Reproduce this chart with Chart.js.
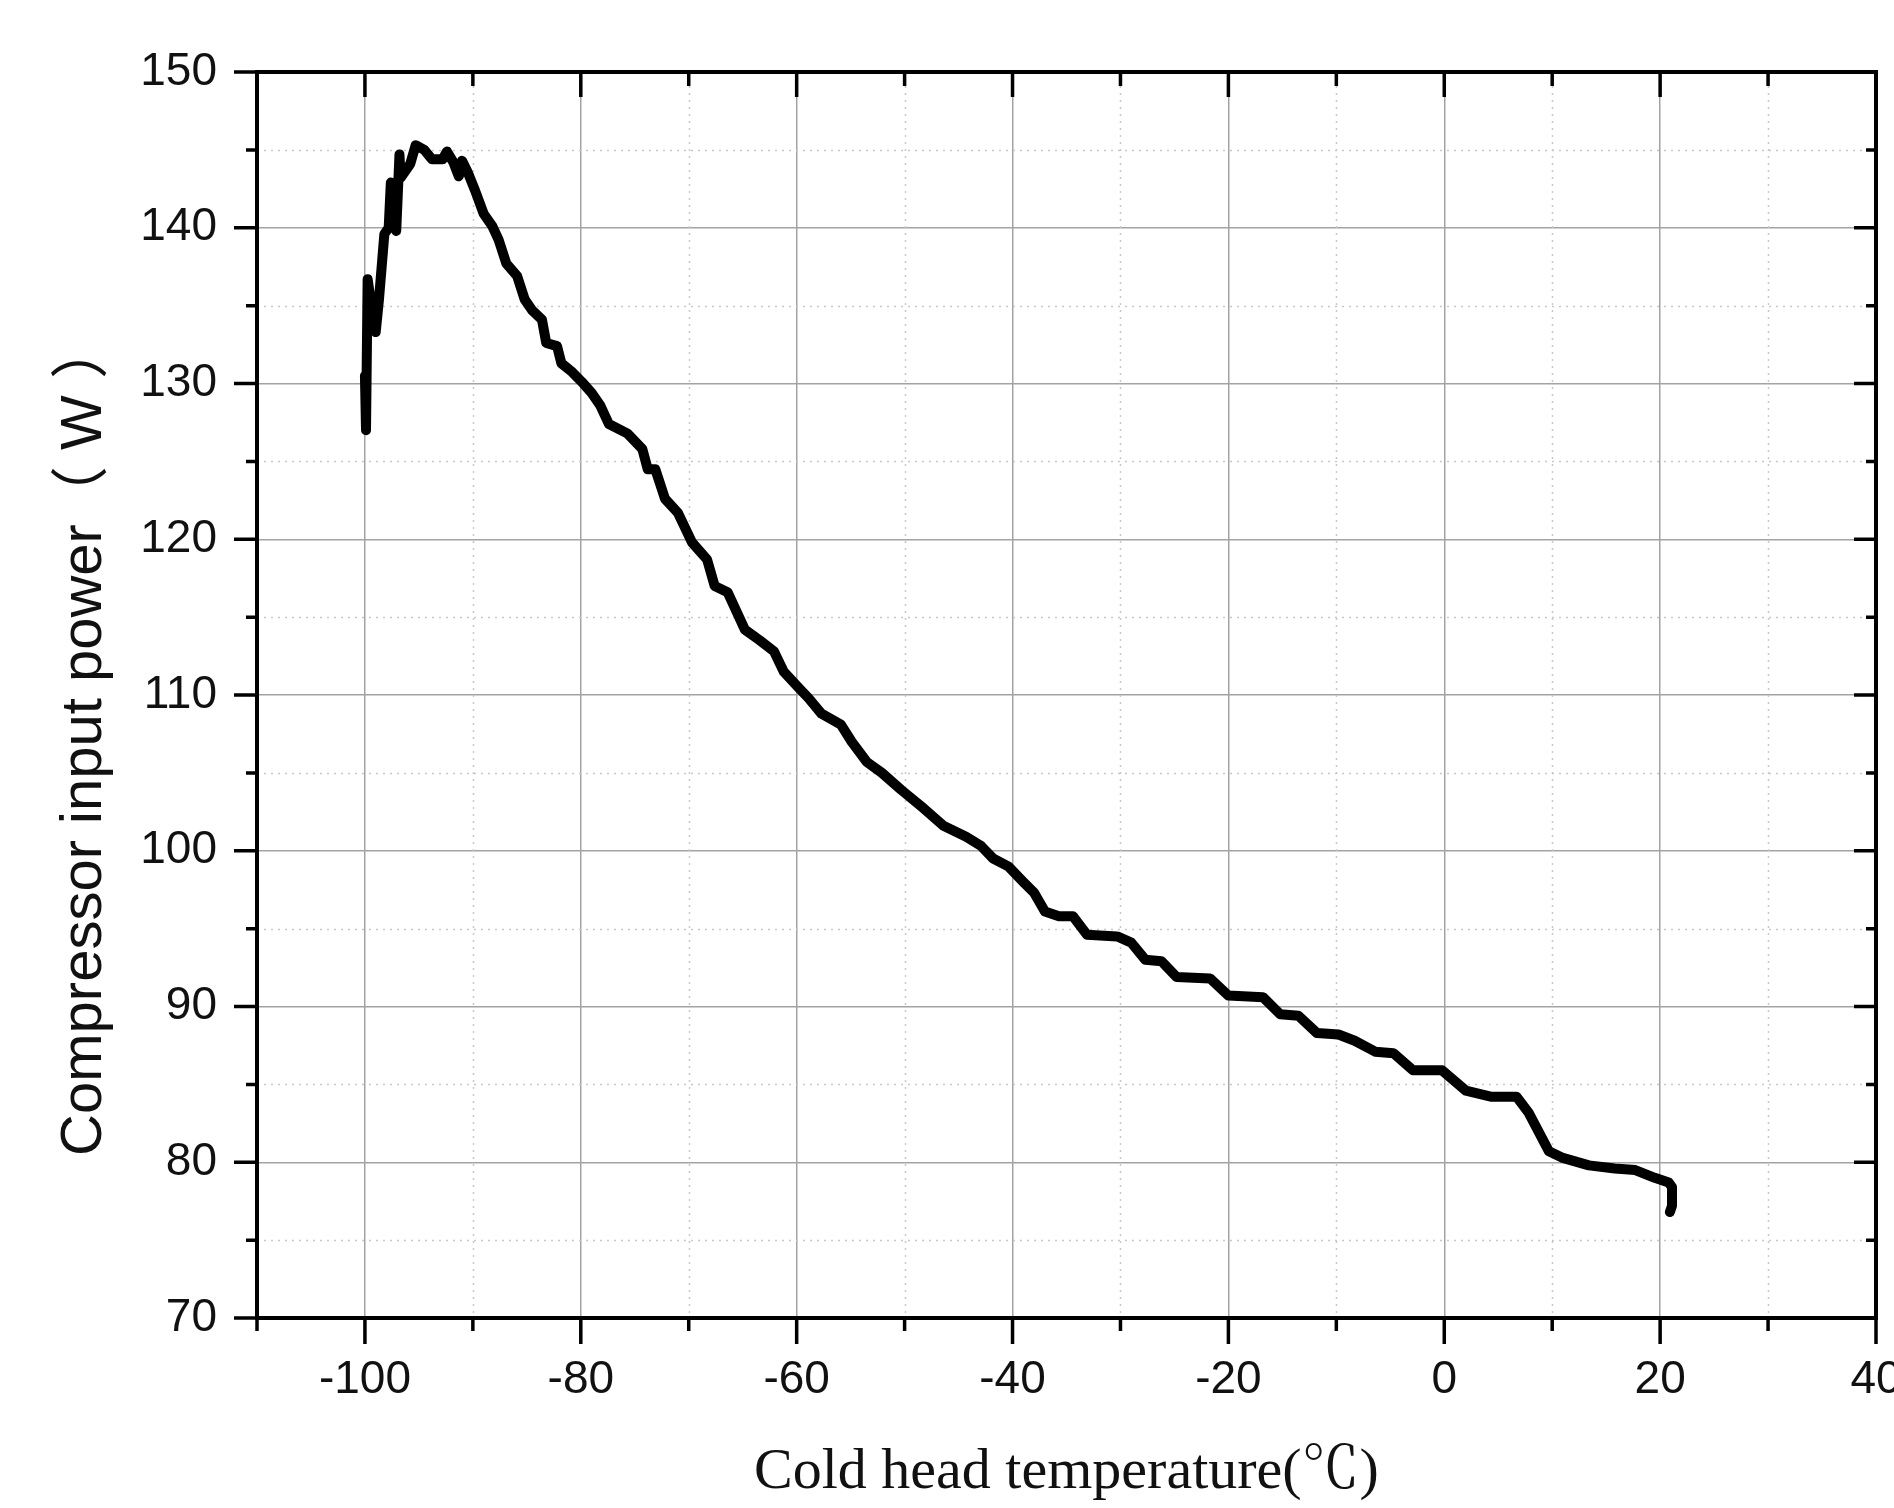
<!DOCTYPE html>
<html>
<head>
<meta charset="utf-8">
<title>Compressor input power vs cold head temperature</title>
<script src="https://cdn.jsdelivr.net/npm/chart.js@4.4.0/dist/chart.umd.min.js"></script>
<style>
  html, body { margin: 0; padding: 0; background: #fff; }
  #wrap { width: 1894px; height: 1508px; }
</style>
</head>
<body>
<div id="wrap"><canvas id="chart"></canvas></div>
<script>
// Cold head temperature (°C) and compressor input power (W)
const temps = [
  -100.0, -99.9, -99.75, -99.4, -99.0, -98.7, -98.2, -97.8, -97.6, -97.4,
  -97.1, -96.8, -96.7, -96.2, -95.8, -95.3, -94.5, -93.8, -92.8, -92.4,
  -91.8, -91.3, -91.0, -90.5, -89.8, -89.0, -88.2, -87.6, -86.9, -85.9,
  -85.2, -84.5, -83.6, -83.2, -82.2, -81.8, -80.9, -79.9, -79.0, -78.2,
  -77.4, -75.7, -74.3, -73.8, -73.1, -72.2, -71.0, -69.7, -68.3, -67.6,
  -66.4, -64.8, -63.4, -62.1, -61.2, -60.0, -58.9, -57.7, -55.9, -54.9,
  -53.5, -52.1, -50.3, -48.2, -46.4, -44.3, -42.9, -41.8, -40.4, -39.0,
  -38.0, -37.0, -35.7, -34.4, -33.1, -30.3, -29.0, -27.7, -26.2, -24.8,
  -21.7, -20.0, -16.8, -15.2, -13.5, -11.8, -9.8, -8.3, -6.4, -4.7,
  -2.9, -0.2, 2.0, 4.4, 6.7, 7.8, 9.7, 10.9, 13.4, 15.8,
  17.7, 19.5, 20.8, 21.1, 21.1, 20.9
];
const power = [
  130.5, 127.0, 136.7, 135.0, 133.3, 135.4, 139.6, 140.0, 142.9, 140.2,
  139.8, 144.7, 143.2, 143.7, 144.1, 145.3, 145.0, 144.4, 144.4, 144.9,
  144.2, 143.3, 144.3, 143.6, 142.4, 140.9, 140.1, 139.2, 137.7, 136.9,
  135.4, 134.7, 134.1, 132.6, 132.4, 131.3, 130.8, 130.1, 129.4, 128.6,
  127.4, 126.8, 125.8, 124.5, 124.5, 122.6, 121.7, 119.8, 118.7, 117.0,
  116.6, 114.2, 113.5, 112.8, 111.5, 110.6, 109.8, 108.8, 108.1, 107.0,
  105.7, 105.0, 103.9, 102.7, 101.6, 100.9, 100.3, 99.5, 99.0, 98.0,
  97.3, 96.1, 95.8, 95.8, 94.6, 94.5, 94.1, 93.0, 92.9, 91.9,
  91.8, 90.7, 90.6, 89.5, 89.4, 88.3, 88.2, 87.8, 87.1, 87.0,
  85.9, 85.9, 84.6, 84.2, 84.2, 83.2, 80.7, 80.3, 79.8, 79.6,
  79.5, 79.0, 78.7, 78.4, 77.2, 76.8
];

// axis ranges: labelled (major) and unlabelled (minor) ticks
const xMin = -110, xMax = 40, xMajor = 20, xMinor = 10;
const yMin = 70, yMax = 150, yMajor = 10, yMinor = 5;

const isMajorX = v => Math.abs(v % xMajor) < 1e-6;
const isMajorY = v => Math.abs(v % yMajor) < 1e-6;

// Origin-style box: dotted minor grid, tick marks in and out, heavy frame
const originFrame = {
  id: 'originFrame',
  beforeDatasetsDraw(chart) {
    const { ctx, chartArea: a, scales: { x, y } } = chart;
    ctx.save();
    ctx.strokeStyle = '#c8c8c8';
    ctx.lineWidth = 1.5;
    ctx.setLineDash([2, 5]);
    ctx.beginPath();
    for (let v = xMin + xMinor; v < xMax; v += xMinor) {
      if (isMajorX(v)) continue;
      const px = Math.round(x.getPixelForValue(v)) + 0.5;
      ctx.moveTo(px, a.top);
      ctx.lineTo(px, a.bottom);
    }
    for (let v = yMin + yMinor; v < yMax; v += yMinor) {
      if (isMajorY(v)) continue;
      const py = Math.round(y.getPixelForValue(v)) + 0.5;
      ctx.moveTo(a.left, py);
      ctx.lineTo(a.right, py);
    }
    ctx.stroke();
    ctx.restore();
  },
  afterDatasetsDraw(chart) {
    const { ctx, chartArea: a, scales: { x, y } } = chart;
    ctx.save();
    ctx.strokeStyle = '#000';
    ctx.lineWidth = 3.5;
    ctx.beginPath();
    for (let v = xMin; v <= xMax; v += xMinor) {
      const px = x.getPixelForValue(v);
      const major = isMajorX(v);
      ctx.moveTo(px, a.bottom);
      ctx.lineTo(px, a.bottom + (major ? 26 : 13));
      ctx.moveTo(px, a.top);
      ctx.lineTo(px, a.top + (major ? 25 : 14));
    }
    for (let v = yMin; v <= yMax; v += yMinor) {
      const py = y.getPixelForValue(v);
      const major = isMajorY(v);
      ctx.moveTo(a.left - (major ? 23 : 11), py);
      ctx.lineTo(a.left, py);
      ctx.moveTo(a.right - (major ? 22 : 10), py);
      ctx.lineTo(a.right, py);
    }
    ctx.stroke();
    ctx.lineWidth = 4;
    ctx.strokeRect(a.left, a.top, a.right - a.left, a.bottom - a.top);
    ctx.restore();
  }
};

const ctx = document.getElementById('chart').getContext('2d');
new Chart(ctx, {
  type: 'line',
  data: {
    datasets: [{
      label: 'Compressor input power',
      data: temps.map((t, i) => ({ x: t, y: power[i] })),
      borderColor: '#000',
      borderWidth: 10,
      borderCapStyle: 'round',
      borderJoinStyle: 'round',
      pointRadius: 0,
      tension: 0,
      fill: false
    }]
  },
  options: {
    responsive: true,
    maintainAspectRatio: false,
    animation: false,
    layout: { padding: { left: 0, top: 72, right: 18, bottom: 0 } },
    plugins: {
      legend: { display: false },
      tooltip: { enabled: false }
    },
    scales: {
      x: {
        type: 'linear',
        min: xMin,
        max: xMax,
        border: { display: false },
        grid: {
          drawTicks: false,
          lineWidth: 1.5,
          color: c => (isMajorX(c.tick.value) && c.tick.value > xMin && c.tick.value < xMax) ? '#a3a3a3' : 'rgba(0,0,0,0)'
        },
        ticks: {
          stepSize: xMinor,
          autoSkip: false,
          maxRotation: 0,
          minRotation: 0,
          padding: 35,
          color: '#111',
          font: { family: 'Arial, "Liberation Sans", sans-serif', size: 46 },
          callback: v => isMajorX(v) ? String(v) : ''
        },
        title: {
          display: true,
          text: 'Cold head temperature(℃)',
          color: '#111',
          padding: { top: 0, bottom: 0 },
          font: { family: '"Liberation Serif", "Times New Roman", "Noto Serif CJK SC", "Noto Sans CJK SC", serif', size: 58 }
        },
        afterFit: s => { s.height = 190; s.paddingRight = 0; s.paddingLeft = 0; }
      },
      y: {
        min: yMin,
        max: yMax,
        border: { display: false },
        grid: {
          drawTicks: false,
          lineWidth: 1.5,
          color: c => (isMajorY(c.tick.value) && c.tick.value > yMin && c.tick.value < yMax) ? '#a3a3a3' : 'rgba(0,0,0,0)'
        },
        ticks: {
          stepSize: yMinor,
          autoSkip: false,
          padding: 40,
          color: '#111',
          font: { family: 'Arial, "Liberation Sans", sans-serif', size: 46 },
          callback: v => isMajorY(v) ? String(v) : ''
        },
        title: {
          display: true,
          text: 'Compressor input power（ W ）\u3000\u3000',
          color: '#111',
          padding: { top: 50, bottom: 0 },
          font: { family: 'Arial, "Liberation Sans", "Noto Sans CJK SC", sans-serif', size: 58 }
        },
        afterFit: s => { s.width = 257; }
      }
    }
  },
  plugins: [originFrame]
});
</script>
</body>
</html>
